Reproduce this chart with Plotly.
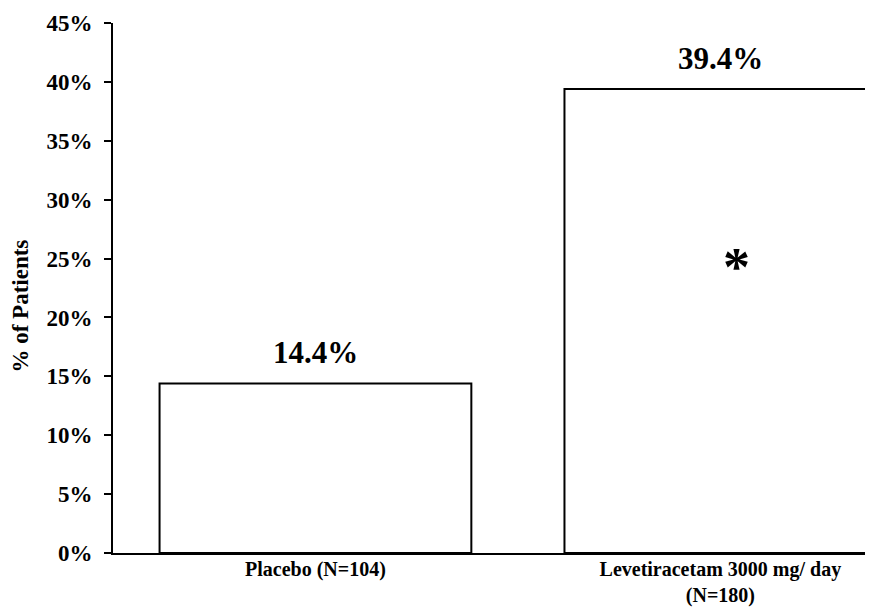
import plotly.graph_objects as go

categories = ["Placebo (N=104)", "Levetiracetam 3000 mg/ day<br>(N=180)"]
values = [14.4, 39.4]
value_labels = ["14.4%", "39.4%"]
y_ticks = [0, 5, 10, 15, 20, 25, 30, 35, 40, 45]
y_tick_labels = [f"{t}%" for t in y_ticks]
y_title = "% of Patients"
marker_text = "*"
marker_y = 25

FONT = "Liberation Serif"

fig = go.Figure()
fig.add_trace(go.Bar(
    x=[0, 1], y=values,
    width=0.77,
    marker=dict(color="white", line=dict(color="black", width=2)),
    hoverinfo="skip",
))

for i, (v, lab) in enumerate(zip(values, value_labels)):
    fig.add_annotation(x=i, y=v, text=lab, showarrow=False, yanchor="bottom",
                       yshift=11, font=dict(family=FONT, size=31, color="black", weight="bold"))

fig.add_annotation(x=1.04, y=marker_y, text=marker_text, showarrow=False,
                   yanchor="middle", font=dict(family=FONT, size=54, color="black", weight="bold"),
                   yshift=-8)

# y-axis title placed as rotated text (slightly below the axis centre, as in the reference)
fig.add_annotation(xref="paper", yref="paper", x=0, y=0.465, xanchor="center", yanchor="middle",
                   xshift=-92, text=y_title, textangle=-90, showarrow=False,
                   font=dict(family=FONT, size=23, color="black", weight="bold"))

fig.update_layout(
    width=865, height=602,
    margin=dict(l=105, r=0, t=15, b=57),
    paper_bgcolor="white", plot_bgcolor="white",
    showlegend=False,
    font=dict(family=FONT, color="black"),
    xaxis=dict(
        range=[-0.5, 1.377],
        tickvals=[0, 1], ticktext=categories,
        showline=True, linecolor="black", linewidth=2,
        ticks="", showgrid=False, zeroline=False,
        tickfont=dict(family=FONT, size=20, color="black", weight="bold"),
        ticklabelstandoff=-3,
        automargin=False,
        fixedrange=True,
    ),
    yaxis=dict(
        range=[0, 45],
        tickvals=y_ticks, ticktext=y_tick_labels,
        showline=True, linecolor="black", linewidth=2,
        ticks="outside", ticklen=7, tickwidth=2, tickcolor="black",
        ticklabelstandoff=7,
        showgrid=False, zeroline=False,
        tickfont=dict(family=FONT, size=23, color="black", weight="bold"),
        automargin=False,
        fixedrange=True,
    ),
)

fig.write_html("out.html")
